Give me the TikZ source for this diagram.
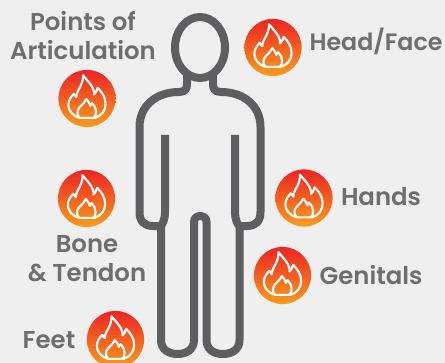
\documentclass[tikz,border=0pt]{standalone}
\usepackage{fontspec}
\setmainfont{Poppins}[UprightFont=* SemiBold,BoldFont=* SemiBold]
\definecolor{bg}{HTML}{EFEFEF}
\definecolor{bodyc}{HTML}{5E5E60}
\definecolor{txt}{HTML}{6E6E6E}
\definecolor{fireTop}{HTML}{EE2325}
\definecolor{fireBot}{HTML}{F99D1C}
\tikzset{
  bodyline/.style={draw=bodyc,line width=6pt,line cap=butt,line join=round},
  lab/.style={text=txt,font=\fontsize{18.3pt}{21.5pt}\selectfont,align=center,inner sep=0pt},
  flameline/.style={draw=white,line width=1.6pt,line join=round},
  firepic/.pic={
    \shade[top color=fireTop,bottom color=fireBot] (0,0) circle (28.6);
    \begin{scope}[scale=1.333]
    \draw[flameline] (-3,-17.5) .. controls (0.5,-13) and (4,-10) .. (5,-6)
      .. controls (5.5,-4.5) and (5.6,-3.5) .. (5.2,-3) .. controls (6.5,-4) and (7.5,-6) .. (8,-8)
      .. controls (11,-5) and (14,-1) .. (14,4) .. controls (14,9) and (11,13) .. (6,14.5)
      -- (-5.5,14.5) .. controls (-11,13) and (-14,9) .. (-14,5)
      .. controls (-14,1) and (-12,-1) .. (-10,-3.5) .. controls (-9.5,-2) and (-9,-1.5) .. (-8,-1)
      .. controls (-8,-4) and (-6.5,-6) .. (-5,-9) .. controls (-3.5,-12) and (-2.8,-15) .. (-3,-17.5) -- cycle;
    \draw[flameline] (-5.5,14.5) .. controls (-8,12) and (-7.5,9) .. (-5.5,6.5)
      .. controls (-3.5,4.5) and (-1.5,3) .. (-0.5,0.5) .. controls (1,2) and (2,3.5) .. (2.5,5.5)
      .. controls (3,5) and (3.4,4.5) .. (3.8,3.5) .. controls (6,6) and (7,8) .. (6.8,10)
      .. controls (6.7,12) and (6.4,13.5) .. (5,14.5);
    \end{scope}
  }
}
\begin{document}
\begin{tikzpicture}[x=0.75pt,y=-0.75pt]
\useasboundingbox (0,0) rectangle (445,363);
\fill[bg] (0,0) rectangle (445,363);
% head
\draw[bodyline] (200,47.5) ellipse [x radius=25,y radius=30.5];
% torso, arms and legs
\draw[bodyline] (187,75) -- (187,84) .. controls (187,89) and (185,92) .. (179,92)
  .. controls (156,92) and (139.5,106) .. (139.5,127) -- (139.5,212)
  .. controls (139.5,221) and (144,226) .. (153,226) -- (161,226) -- (161,340)
  .. controls (161,349) and (168,354) .. (177.5,354)
  .. controls (187,354) and (194,349) .. (194,340) -- (194,222)
  .. controls (194,218) and (197,216) .. (200.2,216)
  .. controls (203.5,216) and (206.5,218) .. (206.5,222) -- (206.5,340)
  .. controls (206.5,349) and (213,354) .. (223,354)
  .. controls (232.5,354) and (239.5,349) .. (239.5,340) -- (239.5,226) -- (247,226)
  .. controls (256,226) and (260.5,221) .. (260.5,212) -- (260.5,127)
  .. controls (260.5,106) and (244,92) .. (221,92)
  .. controls (215,92) and (213,89) .. (213,84) -- (213,75);
\draw[bodyline] (165,135) -- (165,212) .. controls (165,219) and (163,224) .. (160,227);
\draw[bodyline] (235,135) -- (235,212) .. controls (235,219) and (237,224) .. (240,227);
% fire badges
\pic at (273,47.5) {firepic};
\pic at (87,98.5) {firepic};
\pic at (86.5,198.5) {firepic};
\pic at (304,198) {firepic};
\pic at (282.5,275.5) {firepic};
\pic at (115.5,339.5) {firepic};
% labels
\node[lab] (poa) at (83,35.5) {Points of\\Articulation};
\node[lab,font=\fontsize{17.8pt}{21.5pt}\selectfont] (head) at (376,41) {Head/Face};
\node[lab] (hands) at (381,197) {Hands};
\node[lab] (genitals) at (371,275) {Genitals};
\node[lab] (bone) at (87,258.5) {Bone\\\& Tendon};
\node[lab] (feet) at (49,340) {Feet};
\end{tikzpicture}
\end{document}
